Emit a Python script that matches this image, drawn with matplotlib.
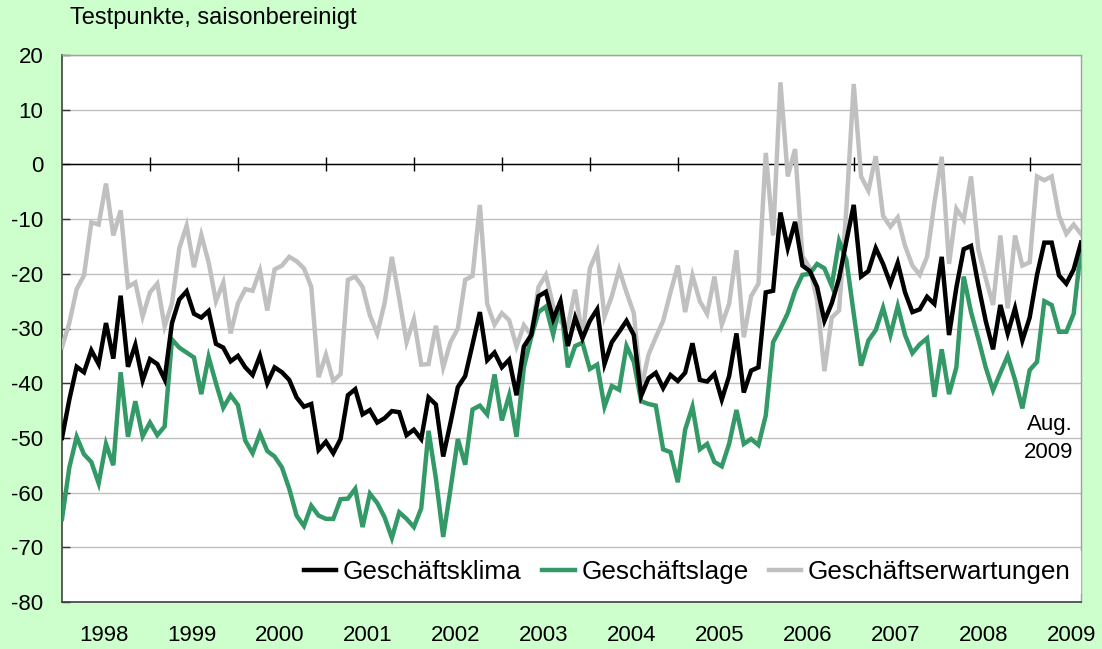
import matplotlib
matplotlib.use("Agg")
import matplotlib.pyplot as plt
import matplotlib.transforms as mtransforms
import numpy as np

plt.rcParams['font.family'] = ['Liberation Sans', 'DejaVu Sans']

# ---------------- data (monthly, Jan 1998 .. Aug 2009) ----------------
years = [str(y) for y in range(1998, 2010)]
y_ticks = list(range(-80, 21, 10))

klima = [
    -50, -43, -37, -38, -34, -36.5, -29, -35.5, -24, -37, -33, -39.5,
    -35.6, -36.5, -39.3, -29, -24.7, -23.2, -27.3, -28, -26.8, -32.8, -33.5, -36,
    -35, -37.1, -38.5, -35, -40, -37.1, -38, -39.4, -42.6, -44.3, -43.8, -52.2,
    -50.7, -52.8, -50.2, -42.2, -41.1, -45.7, -44.9, -47.2, -46.4, -45.1, -45.3, -49.5,
    -48.5, -50.2, -42.6, -43.9, -53.4, -47.2, -40.7, -38.7, -32.9, -27, -35.8, -34.4,
    -37.1, -35.7, -42.2, -33.3, -31.2, -24.1, -23.3, -28.3, -25, -33.2, -28, -31.8,
    -28.6, -26.5, -36.5, -32.5, -30.6, -28.6, -31.2, -42.3, -39.1, -38.1, -40.9, -38.5,
    -39.6, -38.1, -32.7, -39.4, -39.7, -38.3, -43, -38.7, -30.9, -41.7, -37.7, -37.1,
    -23.4, -23.1, -8.8, -15.3, -10.5, -18.5, -19.5, -22.4, -28.6, -25.4, -20.8, -14,
    -7.4, -20.5, -19.5, -15.3, -18.2, -21.8, -18, -23.4, -27, -26.5, -24.2, -25.5,
    -16.9, -31.2, -22.5, -15.5, -14.9, -22.1, -28.6, -33.8, -25.7, -30.9, -26.3, -32.2,
    -28, -20.2, -14.3, -14.3, -20.3, -21.8, -19.2, -14.3,
]

lage = [
    -64.8, -55.4, -49.8, -53, -54.4, -58.3, -51.1, -55, -38, -49.8, -43.3, -49.7,
    -47.2, -49.5, -47.9, -32, -33.5, -34.4, -35.3, -42, -35.2, -40, -44.5, -42.2,
    -44, -50.5, -52.8, -49.2, -52.4, -53.4, -55.4, -59.3, -64.2, -66.1, -62.4, -64.2,
    -64.8, -64.8, -61.2, -61.1, -59.3, -66.3, -60.2, -61.9, -64.5, -68.3, -63.6, -64.8,
    -66.3, -62.9, -48.7, -57.4, -68.1, -59.3, -50.2, -54.9, -44.8, -44.1, -45.7, -38.4,
    -46.8, -42.2, -49.8, -37.1, -31.6, -27, -26, -31.1, -25, -37.1, -33.2, -32.6,
    -37.4, -36.6, -44.3, -40.5, -41.2, -33.2, -36.1, -43.3, -43.8, -44.1, -52.1, -52.6,
    -58.1, -48.5, -44.3, -52.1, -51.1, -54.4, -55.2, -51.1, -44.9, -51.1, -50.2, -51.3,
    -45.9, -32.5, -30, -27.2, -23.1, -20.2, -20, -18.2, -19, -22.2, -14, -17.5,
    -27.3, -36.8, -32.2, -30.3, -26.2, -31.2, -25.9, -31.2, -34.5, -32.9, -31.8, -42.5,
    -33.8, -42, -37.1, -20.5, -27, -31.9, -37.1, -41.3, -38.1, -35, -39.4, -44.6,
    -37.6, -36.1, -25, -25.7, -30.6, -30.6, -27.3, -15.3,
]

erwartungen = [
    -33.4, -29, -22.8, -20.3, -10.6, -11, -3.5, -13, -8.4, -22.4, -21.6, -27.8,
    -23.4, -21.8, -29.6, -25.4, -15.3, -11.2, -18.8, -12.9, -17.9, -25, -21.6, -30.9,
    -25.4, -22.8, -23.1, -19.4, -26.7, -19.2, -18.5, -16.9, -17.7, -19, -22.4, -38.9,
    -34.8, -39.6, -38.3, -21.1, -20.5, -22.4, -27.6, -30.9, -25.4, -16.9, -24.5, -32.5,
    -28.3, -36.6, -36.5, -29.5, -37.1, -32.5, -30, -21.1, -20.4, -7.4, -25.5, -29.3,
    -27.2, -28.5, -33.3, -29.4, -31.2, -22.4, -20.2, -25.9, -28.8, -29.6, -22.9, -31.8,
    -19, -15.9, -27.8, -24.1, -19.2, -23.4, -27.2, -41, -34.8, -31.6, -28.6, -23.4,
    -18.5, -27, -20.3, -25, -27.3, -20.5, -29.3, -25.5, -15.7, -31.6, -24.1, -21.8,
    2.1, -13, 15, -2.2, 2.8, -16.8, -18.9, -24.8, -37.8, -28, -26.7, -8,
    14.7, -2.2, -4.8, 1.5, -9.4, -11.4, -9.7, -14.9, -18.5, -20.2, -16.9, -7.1,
    1.4, -18.2, -8.1, -10.1, -2.2, -15.6, -20.8, -25.7, -13, -26.3, -13, -18.5,
    -17.9, -2.2, -2.9, -2.2, -9.4, -12.7, -11, -12.7,
]

series_names = ["Geschäftsklima", "Geschäftslage", "Geschäftserwartungen"]
title_text = "Testpunkte, saisonbereinigt"
last_label = ["Aug.", "2009"]
last_label_values = [-47.5, -52.6]

# ---------------- figure ----------------
W, H = 1102, 649
fig = plt.figure(figsize=(W / 100, H / 100), dpi=100, facecolor="#CCFFCC")
left, right, top, bottom = 62, 1081, 55, 602
ax = fig.add_axes([left / W, (H - bottom) / H, (right - left) / W, (bottom - top) / H])
ax.set_facecolor("white")

x = np.arange(len(klima))
ax.set_xlim(0, len(klima) - 1)
ax.set_ylim(min(y_ticks), max(y_ticks))

# grid
ax.set_yticks(y_ticks)
ax.set_yticklabels([str(v) for v in y_ticks])
ax.yaxis.grid(True, color="#C0C0C0", linewidth=1.0, zorder=0)
ax.set_axisbelow(True)
ax.axhline(0, color="black", linewidth=1.0, zorder=1)

# year boundary tick marks on the zero line
year_starts = np.arange(12, len(klima), 12)
ax.plot(year_starts, np.zeros(len(year_starts)), linestyle="none", marker="|",
        markersize=10, markeredgewidth=1.0, color="black", zorder=1.5)

# x labels centred in each year
year_mid = np.arange(len(years)) * 12 + 5.75
ax.set_xticks(year_mid)
ax.set_xticklabels(years, fontsize=16)
ax.tick_params(axis="x", length=0, pad=16.5)
ax.tick_params(axis="y", direction="in", length=6, width=1, color="#333333",
               labelsize=16, pad=13.5)

for s in ["left", "bottom"]:
    ax.spines[s].set_color("#404040")
    ax.spines[s].set_linewidth(1.2)
for s in ["top", "right"]:
    ax.spines[s].set_color("#A0A0A0")
    ax.spines[s].set_linewidth(1.0)

# lines
l_erw, = ax.plot(x, erwartungen, color="#C0C0C0", linewidth=3.2, zorder=3,
                 solid_joinstyle="miter", label=series_names[2])
l_lage, = ax.plot(x, lage, color="#339966", linewidth=3.2, zorder=4,
                  solid_joinstyle="miter", label=series_names[1])
l_kl, = ax.plot(x, klima, color="black", linewidth=3.2, zorder=5,
                solid_joinstyle="miter", label=series_names[0])

leg = ax.legend(handles=[l_kl, l_lage, l_erw], ncol=3, loc="lower right",
                bbox_to_anchor=(0.999, 0.016), borderaxespad=0, frameon=True,
                fancybox=False, facecolor="white", edgecolor="white", framealpha=1,
                fontsize=18.8, handlelength=1.25, handletextpad=0.25,
                columnspacing=0.78, borderpad=0.35)
leg.set_zorder(6)

# "Aug. 2009" annotation
trans = mtransforms.blended_transform_factory(ax.transAxes, ax.transData)
for txt, v in zip(last_label, last_label_values):
    ax.text(0.992, v, txt, transform=trans, ha="right", va="center", fontsize=16, zorder=7)

fig.text(70 / W, 1 - 18 / H, title_text, fontsize=17, ha="left", va="center")

fig.savefig("out.png", dpi=100, facecolor=fig.get_facecolor())
